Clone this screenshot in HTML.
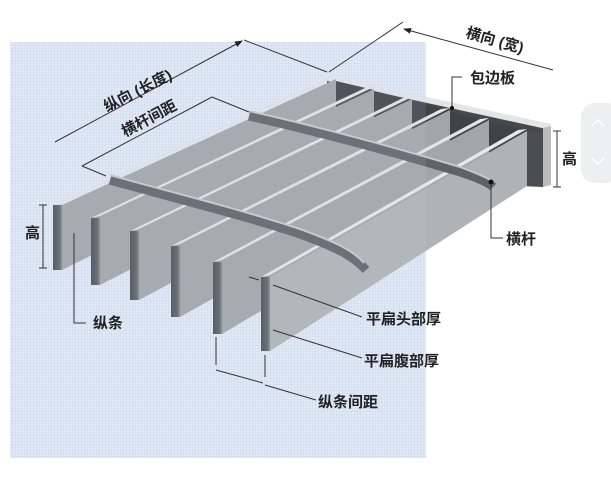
<!DOCTYPE html>
<html><head><meta charset="utf-8"><style>
html,body{margin:0;padding:0;background:#fff;}
svg{display:block}
text{font-family:"Liberation Sans","Noto Sans CJK SC",sans-serif;font-size:15px;font-weight:bold;fill:#222;}
</style></head><body>
<svg width="611" height="487" viewBox="0 0 611 487" xmlns="http://www.w3.org/2000/svg">
<defs>
<pattern id="g" width="3" height="3" patternUnits="userSpaceOnUse">
<rect width="3" height="3" fill="#e6ecf7"/>
<path d="M0 0.5H3M0.5 0V3" stroke="#d3dcee" stroke-width="0.6"/>
</pattern>
<linearGradient id="fr" x1="0" x2="1" y1="0" y2="0">
<stop offset="0" stop-color="#4b4e54"/><stop offset="0.7" stop-color="#5e6268"/><stop offset="1" stop-color="#8a8d92"/>
</linearGradient>
<marker id="ar" markerWidth="8" markerHeight="8" refX="7" refY="4" orient="auto" markerUnits="userSpaceOnUse">
<path d="M0 1L8 4L0 7z" fill="#222"/></marker>
</defs>
<rect x="0" y="0" width="611" height="487" fill="#fff"/>
<rect x="10" y="42" width="416" height="416" fill="url(#g)"/>
<rect x="581" y="103" width="40" height="80" rx="14" fill="#eeeff1"/>
<path d="M592 126l6-6 6 6M592 158l6 6 6-6" stroke="#fff" stroke-width="1.5" fill="none"/>

<polygon points="327,79 551,128 551,185 327,134" fill="#45484d"/>
<polygon points="327,75 551,124 551,130 327,81" fill="#e3e5e7"/>
<polygon points="521,131 543,133 543,187 521,186" fill="#4a4d52"/>
<polygon points="543,128 551,126 551,185 543,187" fill="#b9bcbf"/>

<g>
<polygon points="62,205 336,79 336,134 62,270" fill="#a2a5a9"/>
<polygon points="53,205 62,203 336,77 327,78" fill="#e2e4e6"/>
<rect x="53" y="205" width="9" height="65" fill="url(#fr)"/>
<polygon points="336,81 374,90 336,100" fill="#3f4247"/>
<polygon points="100,218 374,89 374,144 100,285" fill="#a2a5a9"/>
<polygon points="91,218 100,216 374,87 365,88" fill="#e2e4e6"/>
<rect x="91" y="218" width="9" height="67" fill="url(#fr)"/>
<polygon points="374,91 412,100 374,112" fill="#3f4247"/>
<polygon points="139,231 412,99 412,154 139,300" fill="#a2a5a9"/>
<polygon points="130,231 139,229 412,97 403,98" fill="#e2e4e6"/>
<rect x="130" y="231" width="9" height="69" fill="url(#fr)"/>
<polygon points="412,101 450,111 412,124" fill="#3f4247"/>
<polygon points="180,246 450,110 450,165 180,317" fill="#a2a5a9"/>
<polygon points="171,246 180,244 450,108 441,109" fill="#e2e4e6"/>
<rect x="171" y="246" width="9" height="71" fill="url(#fr)"/>
<polygon points="450,112 489,121 450,137" fill="#3f4247"/>
<polygon points="222,262 489,120 489,175 222,334" fill="#a2a5a9"/>
<polygon points="213,262 222,260 489,118 480,119" fill="#e2e4e6"/>
<rect x="213" y="262" width="9" height="72" fill="url(#fr)"/>
<polygon points="489,122 527,131 489,148" fill="#3f4247"/>
<polygon points="270,277 527,131 527,186 270,351" fill="#b0b3b6"/>
<polygon points="261,277 270,275 527,129 518,130" fill="#e6e8ea"/>
<rect x="261" y="277" width="9" height="74" fill="url(#fr)"/>
</g>

<path d="M110,180 C170,197 240,214 300,234 C330,245 352,254 366,270" stroke="#5f6369" stroke-width="9" fill="none"/>
<path d="M110,175 C170,192 240,209 300,229 C330,240 352,249 364,263" stroke="#c7c9cc" stroke-width="2" fill="none"/>
<path d="M249,116 C320,132 400,154 460,172 C478,178 488,182 493,187" stroke="#5f6369" stroke-width="9" fill="none"/>
<path d="M249,111 C320,127 400,149 460,167 C476,173 486,177 492,181" stroke="#c7c9cc" stroke-width="2" fill="none"/>

<rect x="10" y="42" width="416" height="416" fill="#c8d6f0" opacity="0.12"/>

<g stroke="#333" stroke-width="1" fill="none">
<line x1="55" y1="142" x2="242" y2="41" marker-end="url(#ar)"/>
<line x1="244" y1="40" x2="327" y2="72"/>
<line x1="329" y1="72" x2="403" y2="22"/>
<line x1="553" y1="70" x2="404" y2="29" marker-end="url(#ar)"/>
<line x1="82" y1="166" x2="212" y2="97"/>
<line x1="212" y1="97" x2="249" y2="112"/>
<line x1="82" y1="166" x2="106" y2="176"/>
<path d="M452,108V77H462"/>
<path d="M557,131V187M553,131H561M553,187H561"/>
<path d="M43,205V268M39,205H47M39,268H47"/>
<path d="M491,183V238H503"/>
<path d="M74,233V323H86"/>
<line x1="273" y1="285" x2="362" y2="317"/>
<line x1="273" y1="330" x2="362" y2="358"/>
<line x1="249" y1="277" x2="259" y2="280"/>
<path d="M216,337V365M265,355V377"/>
<line x1="216" y1="370" x2="263" y2="383"/>
<line x1="265" y1="385" x2="316" y2="400"/>
</g>
<circle cx="491" cy="182" r="2.5" fill="#111"/>
<circle cx="452" cy="108" r="2" fill="#111"/>

<text transform="translate(107,112) rotate(-27)">纵向 (长度)</text>
<text transform="translate(125,137) rotate(-28)">横杆间距</text>
<text transform="translate(465,37) rotate(16)">横向 (宽)</text>
<text x="470" y="83">包边板</text>
<text x="562" y="164">高</text>
<text x="25" y="238">高</text>
<text x="506" y="244">横杆</text>
<text x="93" y="328">纵条</text>
<text x="366" y="324">平扁头部厚</text>
<text x="364" y="366">平扁腹部厚</text>
<text x="318" y="407">纵条间距</text>
</svg>
</body></html>
